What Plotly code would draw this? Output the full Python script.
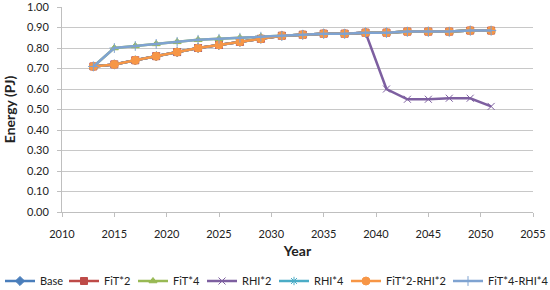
import plotly.graph_objects as go

# Datos de la figura
years = [2013, 2015, 2017, 2019, 2021, 2023, 2025, 2027, 2029, 2031,
         2033, 2035, 2037, 2039, 2041, 2043, 2045, 2047, 2049, 2051]

base = [0.71, 0.72, 0.74, 0.76, 0.78, 0.80, 0.815, 0.83, 0.845, 0.86,
        0.865, 0.87, 0.87, 0.875, 0.875, 0.88, 0.88, 0.88, 0.885, 0.885]
fit2 = list(base)
fit4 = [0.71, 0.80, 0.81, 0.82, 0.83, 0.84, 0.845, 0.85, 0.855, 0.86,
        0.865, 0.87, 0.87, 0.875, 0.875, 0.88, 0.88, 0.88, 0.885, 0.885]
rhi2 = base[:14] + [0.60, 0.55, 0.55, 0.555, 0.555, 0.515]
rhi4 = list(base)
fit2_rhi2 = list(base)
fit4_rhi4 = list(fit4)

x_ticks = [2010, 2015, 2020, 2025, 2030, 2035, 2040, 2045, 2050, 2055]
y_ticks = [0.0, 0.1, 0.2, 0.3, 0.4, 0.5, 0.6, 0.7, 0.8, 0.9, 1.0]

# Configuración de series: nombre, valores, color, símbolo, tamaño, posición leyenda (px)
SERIES = [
    ('Base', base, '#4A7EBB', 'diamond', 7, 0),
    ('FiT*2', fit2, '#BE4B48', 'square', 7, 64),
    ('FiT*4', fit4, '#98B954', 'triangle-up', 7, 133),
    ('RHI*2', rhi2, '#7D5FA0', 'x-thin-open', 7, 202),
    ('RHI*4', rhi4, '#4BACC6', 'asterisk-open', 7, 274),
    ('FiT*2-RHI*2', fit2_rhi2, '#F79646', 'circle', 8, 346),
    ('FiT*4-RHI*4', fit4_rhi4, '#7FA3D1', 'cross-thin-open', 7, 448),
]

fig = go.Figure()
legends = {}
for i, (name, vals, color, symbol, size, lx) in enumerate(SERIES):
    key = 'legend' if i == 0 else f'legend{i + 1}'
    fig.add_trace(go.Scatter(
        x=years, y=vals, name=name, mode='lines+markers', legend=key,
        line=dict(color=color, width=2.5),
        marker=dict(symbol=symbol, size=size, color=color,
                    line=dict(color=color, width=1)),
    ))
    # Una leyenda por serie para imitar el espaciado compacto de Excel
    legends[key] = dict(
        orientation='h', xref='container', yref='container',
        x=lx / 550, xanchor='left', y=1 - 281 / 290, yanchor='middle',
        font=dict(size=11), itemwidth=30, bgcolor='rgba(0,0,0,0)',
    )

fig.update_layout(
    width=550, height=290,
    margin=dict(l=62, r=17, t=7, b=78, autoexpand=False),
    paper_bgcolor='white', plot_bgcolor='white',
    font=dict(family='Lato, Carlito, sans-serif', size=11, color='#222222'),
    showlegend=True,
    xaxis=dict(
        range=[2010, 2055], tickvals=x_ticks, showgrid=False, zeroline=False,
        showline=True, linecolor='#BFBFBF', linewidth=1,
        ticks='outside', ticklen=4, tickcolor='#BFBFBF', ticklabelstandoff=8,
        ticklabeloverflow='allow',
        title=dict(text='<b>Year</b>', font=dict(size=14), standoff=6),
    ),
    yaxis=dict(
        range=[0, 1.0], tickvals=y_ticks, tickformat='.2f', showgrid=True,
        gridcolor='#C8C8C8', gridwidth=1, zeroline=False,
        showline=True, linecolor='#BFBFBF', linewidth=1,
        ticks='outside', ticklen=4, tickcolor='#BFBFBF', ticklabelstandoff=6,
        ticklabeloverflow='allow',
        title=dict(text='<b>Energy (PJ)</b>', font=dict(size=14), standoff=8),
    ),
    **legends,
)

# quitar el margen por defecto del <body> para que el gráfico quede en (0, 0)
fig.write_html("out.html", config={'displayModeBar': False},
               post_script="document.body.style.margin='0';")
